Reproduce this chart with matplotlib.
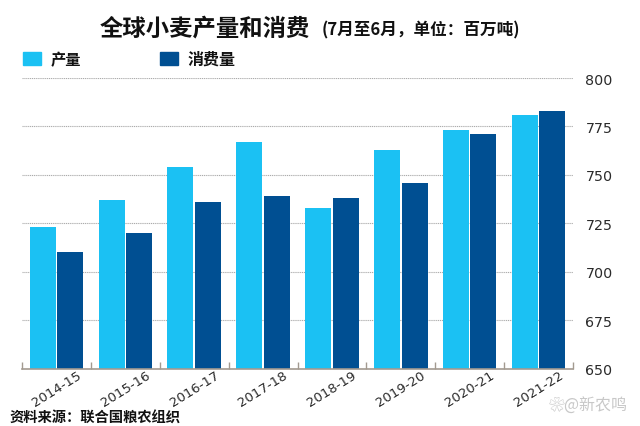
import numpy as np
import matplotlib.pyplot as plt
from matplotlib.patches import Rectangle

plt.rcParams['font.family'] = ['Noto Sans CJK SC', 'DejaVu Sans']

seasons = ['2014-15', '2015-16', '2016-17', '2017-18', '2018-19', '2019-20', '2020-21', '2021-22']
production = [723, 737, 754, 767, 733, 763, 773, 781]
consumption = [710, 720, 736, 739, 738, 746, 771, 783]
yticks = [650, 675, 700, 725, 750, 775, 800]

W, H = 640, 427
LIGHT = '#1bc1f3'
DARK = '#004f92'
TEXT = '#111111'

fig = plt.figure(figsize=(W / 100, H / 100), dpi=100)
# axes box in pixels: x 22-573, y 79-369.5
ax = fig.add_axes([22 / W, 1 - 369.5 / H, 551 / W, 290.5 / H])

x = np.arange(len(seasons)) + 0.5
bw = 0.378
ax.bar(x - bw / 2 - 0.01, production, bw, color=LIGHT, zorder=3)
ax.bar(x + bw / 2 + 0.01, consumption, bw, color=DARK, zorder=3)

ax.set_xlim(0, len(seasons))
ax.set_ylim(650, 800)
ax.yaxis.tick_right()
ax.set_yticks(yticks)
ax.set_yticklabels([str(t) for t in yticks], family='DejaVu Sans')
ax.set_xticks(np.arange(len(seasons) + 1))
ax.set_xticklabels([])
ax.grid(axis='y', linestyle=(0, (1, 0.7)), color='#ababab', linewidth=0.8, zorder=1)
ax.tick_params(axis='y', length=0, pad=9, labelsize=10.3, labelcolor='#2b2b2b')
ax.tick_params(axis='x', direction='in', length=5, width=1, color='#a39a90')
for s in ['top', 'left', 'right']:
    ax.spines[s].set_visible(False)
ax.spines['bottom'].set_color('#a39a90')
ax.spines['bottom'].set_linewidth(1.2)
ax.spines['bottom'].set_zorder(4)

for xi, lab in zip(x, seasons):
    ax.annotate(lab, (xi, 650), xytext=(0, -14), textcoords='offset points',
                rotation=32, ha='center', va='center',
                fontsize=9.5, color='#2b2b2b', family='DejaVu Sans')

fig.text(100 / W, 1 - 28 / H, '全球小麦产量和消费', fontsize=16.8, fontweight='bold',
         color=TEXT, va='center', ha='left')
fig.text(322 / W, 1 - 30 / H, '(7月至6月，单位：百万吨)', fontsize=12, fontweight='bold',
         color=TEXT, va='center', ha='left')

fig.add_artist(Rectangle((23 / W, 1 - 66 / H), 18 / W, 13 / H, color=LIGHT, transform=fig.transFigure))
fig.text(51 / W, 1 - 60 / H, '产量', fontsize=11, fontweight='bold', color=TEXT, va='center')
fig.add_artist(Rectangle((160 / W, 1 - 66 / H), 18 / W, 13 / H, color=DARK, transform=fig.transFigure))
fig.text(188 / W, 1 - 60 / H, '消费量', fontsize=11.5, fontweight='bold', color=TEXT, va='center')

fig.text(9 / W, 1 - 419 / H, '资料来源：联合国粮农组织', fontsize=10.3, fontweight='bold',
         color=TEXT, va='center')
fig.text(628 / W, 1 - 405 / H, '❀@新农鸣', fontsize=11.5, color='#c8c8c8', va='center', ha='right')

fig.savefig('out.png', dpi=100)
